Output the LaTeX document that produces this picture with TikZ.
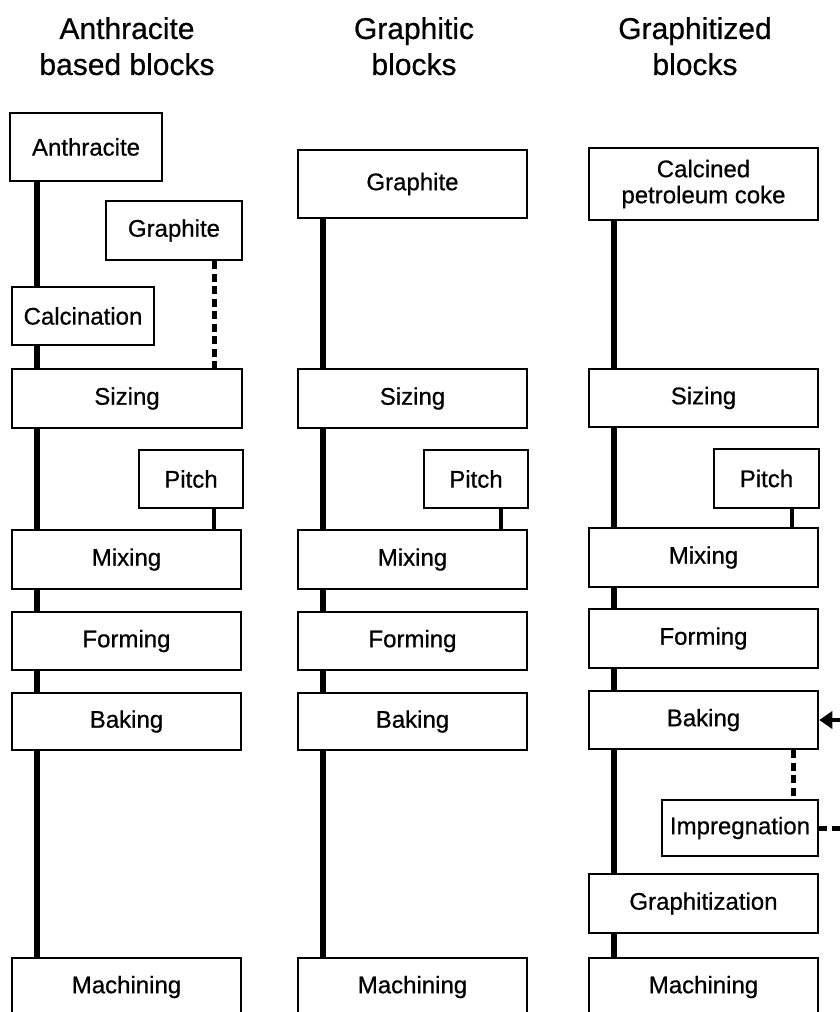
\documentclass[tikz,border=0pt]{standalone}
\usepackage{fontspec}
\setmainfont{Liberation Sans}
\newfontfamily\heavyfont{Liberation Sans}[FakeBold=0.6]
\usetikzlibrary{arrows.meta}
\tikzset{
  box/.style={draw, line width=2.5pt, fill=white, inner sep=0pt, align=center,
    font=\heavyfont\fontsize{24}{26}\selectfont},
  header/.style={align=center, anchor=north, inner sep=0pt,
    font=\heavyfont\fontsize{30}{36}\selectfont},
  mainline/.style={line width=6pt},
  pitchline/.style={line width=4.5pt},
  dashline/.style={line width=5pt, dash pattern=on 8pt off 4.5pt},
  feedarrow/.style={line width=4.5pt, -{Triangle[length=13pt,width=17pt]}}
}
\begin{document}
\begin{tikzpicture}[x=1pt, y=-1pt]
\useasboundingbox (0,0) rectangle (840,1012);
\clip (0,0) rectangle (840,1012);

% headers
\node[header] (h1) at (127,17) {Anthracite\\based blocks};
\node[header] (h2) at (414,17) {Graphitic\\blocks};
\node[header] (h3) at (695,17) {Graphitized\\blocks};

% column x for main lines
\coordinate (L1) at (36.5,0);
\coordinate (L2) at (323,0);
\coordinate (L3) at (613.5,0);
\coordinate (P1) at (214,0);
\coordinate (P2) at (501,0);
\coordinate (P3) at (792,0);
\coordinate (D3) at (793,0);

% column 1
\node[box, minimum width=152pt, minimum height=68pt] (anth) at (86,147) {Anthracite};
\node[box, minimum width=136pt, minimum height=59pt] (graph1) at (174,230.5) {Graphite};
\node[box, minimum width=142pt, minimum height=58pt] (calc) at (83,316) {Calcination};
\node[box, minimum width=230pt, minimum height=59pt] (siz1) at (127,398.5) {Sizing};
\node[box, minimum width=104pt, minimum height=58pt] (pitch1) at (191,479) {Pitch};
\node[box, minimum width=229pt, minimum height=59pt] (mix1) at (126.5,559.5) {Mixing};
\node[box, minimum width=229pt, minimum height=58pt] (form1) at (126.5,641) {Forming};
\node[box, minimum width=229pt, minimum height=57pt] (bake1) at (126.5,721.5) {Baking};
\node[box, minimum width=229pt, minimum height=58pt] (mach1) at (126.5,987) {Machining};

% column 2
\node[box, minimum width=229pt, minimum height=68pt] (graph2) at (412.5,184) {Graphite};
\node[box, minimum width=229pt, minimum height=59pt] (siz2) at (412.5,398.5) {Sizing};
\node[box, minimum width=104pt, minimum height=58pt] (pitch2) at (476,479) {Pitch};
\node[box, minimum width=229pt, minimum height=59pt] (mix2) at (412.5,559.5) {Mixing};
\node[box, minimum width=229pt, minimum height=58pt] (form2) at (412.5,641) {Forming};
\node[box, minimum width=229pt, minimum height=57pt] (bake2) at (412.5,721.5) {Baking};
\node[box, minimum width=229pt, minimum height=58pt] (mach2) at (412.5,987) {Machining};

% column 3
\node[box, minimum width=229pt, minimum height=72pt] (coke) at (703.5,184) {Calcined\\petroleum coke};
\node[box, minimum width=229pt, minimum height=58pt] (siz3) at (703.5,398) {Sizing};
\node[box, minimum width=105pt, minimum height=59pt] (pitch3) at (766.5,478.5) {Pitch};
\node[box, minimum width=229pt, minimum height=59pt] (mix3) at (703.5,557.5) {Mixing};
\node[box, minimum width=229pt, minimum height=59pt] (form3) at (703.5,638.5) {Forming};
\node[box, minimum width=229pt, minimum height=58pt] (bake3) at (703.5,720) {Baking};
\node[box, minimum width=156pt, minimum height=56pt] (impreg) at (740,828) {Impregnation};
\node[box, minimum width=229pt, minimum height=59pt] (graphz) at (703.5,903.5) {Graphitization};
\node[box, minimum width=229pt, minimum height=58pt] (mach3) at (703.5,987) {Machining};

% free ends off the right edge
\coordinate (feedin) at (850,720);
\coordinate (impout) at (850,828);

% column 1 connectors
\draw[mainline] (anth.south -| L1) -- (calc.north -| L1);
\draw[mainline] (calc.south -| L1) -- (siz1.north -| L1);
\draw[dashline] (graph1.south -| P1) -- (siz1.north -| P1);
\draw[mainline] (siz1.south -| L1) -- (mix1.north -| L1);
\draw[pitchline] (pitch1.south -| P1) -- (mix1.north -| P1);
\draw[mainline] (mix1.south -| L1) -- (form1.north -| L1);
\draw[mainline] (form1.south -| L1) -- (bake1.north -| L1);
\draw[mainline] (bake1.south -| L1) -- (mach1.north -| L1);

% column 2 connectors
\draw[mainline] (graph2.south -| L2) -- (siz2.north -| L2);
\draw[mainline] (siz2.south -| L2) -- (mix2.north -| L2);
\draw[pitchline] (pitch2.south -| P2) -- (mix2.north -| P2);
\draw[mainline] (mix2.south -| L2) -- (form2.north -| L2);
\draw[mainline] (form2.south -| L2) -- (bake2.north -| L2);
\draw[mainline] (bake2.south -| L2) -- (mach2.north -| L2);

% column 3 connectors
\draw[mainline] (coke.south -| L3) -- (siz3.north -| L3);
\draw[mainline] (siz3.south -| L3) -- (mix3.north -| L3);
\draw[pitchline] (pitch3.south -| P3) -- (mix3.north -| P3);
\draw[mainline] (mix3.south -| L3) -- (form3.north -| L3);
\draw[mainline] (form3.south -| L3) -- (bake3.north -| L3);
\draw[mainline] (bake3.south -| L3) -- (graphz.north -| L3);
\draw[dashline] (bake3.south -| D3) -- (impreg.north -| D3);
\draw[mainline] (graphz.south -| L3) -- (mach3.north -| L3);
\draw[dashline] (impreg.east) -- (impout);
\draw[feedarrow] (feedin) -- (bake3.east);
\end{tikzpicture}
\end{document}
